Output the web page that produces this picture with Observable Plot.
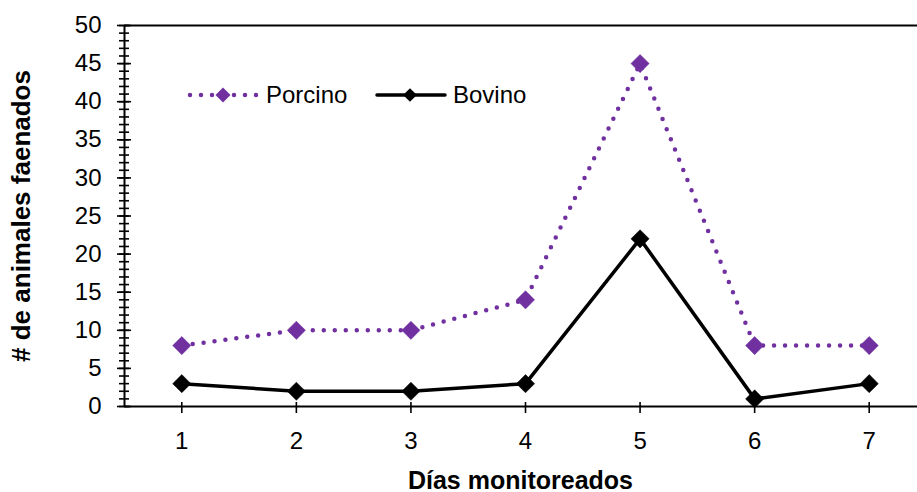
<!DOCTYPE html>
<html>
<head>
<meta charset="utf-8">
<script src="https://cdn.jsdelivr.net/npm/d3@7"></script>
<script src="https://cdn.jsdelivr.net/npm/@observablehq/plot@0.6"></script>
<style>
  html, body { margin: 0; padding: 0; background: #fff; }
  #wrap { position: relative; width: 917px; height: 492px; font-family: "Liberation Sans", Arial, sans-serif; }
  #legend { position: absolute; left: 0; top: 0; }
</style>
</head>
<body>
<div id="wrap"></div>
<script>
const days = [1, 2, 3, 4, 5, 6, 7];
const porcino = [8, 10, 10, 14, 45, 8, 8];
const bovino = [3, 2, 2, 3, 22, 1, 3];
const seriesNames = ["Porcino", "Bovino"];
const majorTicks = [0, 5, 10, 15, 20, 25, 30, 35, 40, 45, 50];
const minorTicks = d3.range(0, 51, 1);
const xTitle = "Días monitoreados";
const yTitle = "# de animales faenados";

const purple = "#7030A0";
const porcData = days.map((d, i) => ({day: d, value: porcino[i]}));
const bovData = days.map((d, i) => ({day: d, value: bovino[i]}));

const chart = Plot.plot({
  width: 917,
  height: 492,
  marginLeft: 124,
  marginRight: -9,
  marginTop: 25,
  marginBottom: 86,
  style: {fontFamily: "Liberation Sans, Arial, sans-serif", fontSize: "24px", color: "#000", background: "#fff"},
  x: {domain: [0.5, 7.5]},
  y: {domain: [0, 50]},
  marks: [
    // frame lines
    Plot.ruleY([50], {stroke: "#000", strokeWidth: 2}),
    Plot.ruleX([0.5], {stroke: "#000", strokeWidth: 2}),
    Plot.ruleY([0], {stroke: "#000", strokeWidth: 2}),
    // y ticks
    Plot.axisY({ticks: minorTicks, tickSize: 10, dx: 5, text: null, strokeWidth: 1.6, label: null}),
    Plot.axisY({ticks: majorTicks, tickSize: 14, dx: 7, text: null, strokeWidth: 1.6, label: null}),
    Plot.axisY({ticks: majorTicks, tickSize: 0, tickPadding: 23, fontSize: 24, label: null, tickFormat: d => String(d)}),
    // x ticks
    Plot.axisX({ticks: days, tickSize: 11, dy: -4, text: null, strokeWidth: 1.6, label: null}),
    Plot.axisX({ticks: days, tickSize: 0, tickPadding: 25, fontSize: 24, label: null, tickFormat: d => String(d)}),
    // titles
    Plot.text([xTitle], {frameAnchor: "bottom", textAnchor: "middle", dy: 82, dx: -5, fontWeight: "bold", fontSize: 25, text: d => d}),
    Plot.text([yTitle], {frameAnchor: "left", textAnchor: "middle", lineAnchor: "middle", dx: -103, rotate: -90, fontWeight: "bold", fontSize: 26, text: d => d}),
    // series
    Plot.line(porcData, {x: "day", y: "value", stroke: purple, strokeWidth: 4.5, strokeDasharray: "0 11", strokeLinecap: "round"}),
    Plot.dot(porcData, {x: "day", y: "value", symbol: "diamond2", r: 8.2, fill: purple, stroke: purple, strokeWidth: 0.5}),
    Plot.line(bovData, {x: "day", y: "value", stroke: "#000", strokeWidth: 3.5}),
    Plot.dot(bovData, {x: "day", y: "value", symbol: "diamond2", r: 8.2, fill: "#000", stroke: "#000", strokeWidth: 0.5})
  ]
});
document.getElementById("wrap").appendChild(chart);

// legend overlay
const lg = d3.select("#wrap").append("svg").attr("id", "legend")
  .attr("width", 917).attr("height", 492)
  .style("font-family", "Liberation Sans, Arial, sans-serif");
const items = [
  {name: seriesNames[0], color: purple, dash: "0 11", width: 4.5, x: 188, r: 6.8},
  {name: seriesNames[1], color: "#000", dash: null, width: 3.5, x: 375, r: 6.2}
];
const ly = 95;
items.forEach(it => {
  const g = lg.append("g");
  g.append("line").attr("x1", it.x + 2).attr("x2", it.x + 70).attr("y1", ly).attr("y2", ly)
    .attr("stroke", it.color).attr("stroke-width", it.width)
    .attr("stroke-linecap", "round")
    .attr("stroke-dasharray", it.dash);
  const cx = it.x + 35;
  g.append("path").attr("d", `M${cx},${ly - it.r * 1.1}L${cx + it.r * 1.1},${ly}L${cx},${ly + it.r * 1.1}L${cx - it.r * 1.1},${ly}Z`)
    .attr("fill", it.color);
  g.append("text").attr("x", it.x + 78).attr("y", ly).attr("dy", "0.35em")
    .attr("font-size", 24).attr("fill", "#000").text(it.name);
});
</script>
</body>
</html>
